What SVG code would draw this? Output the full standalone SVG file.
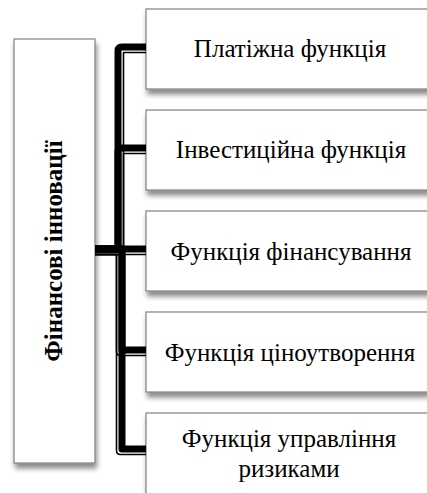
<svg xmlns="http://www.w3.org/2000/svg" width="427" height="493" viewBox="0 0 427 493">
<defs>
<filter id="sh" x="-20%" y="-20%" width="140%" height="140%">
<feDropShadow dx="1.5" dy="5" stdDeviation="2.8" flood-color="#000" flood-opacity="0.45"/>
</filter>
<style>
.box{fill:#fff;stroke:#808080;stroke-width:1.2;filter:url(#sh)}
.t{font-size:25px;fill:#000;text-anchor:middle}
.tb{font-size:25px;font-weight:bold;fill:#000;text-anchor:middle}
.thick{fill:none;stroke:#000;stroke-width:7;stroke-linejoin:round}
.thin{fill:none;stroke:#000;stroke-width:1.6;stroke-linejoin:round}
</style>
</defs>
<rect width="427" height="493" fill="#fff"/>
<g font-family="'Liberation Serif', 'Times New Roman', Tinos, 'Noto Serif', 'DejaVu Serif', FreeSerif, serif">
<g id="root">
<rect class="box" x="14" y="39" width="81" height="424"/>
<text class="tb" transform="translate(62,251) rotate(-90)">Фінансові інновації</text>
</g>
<g id="n1">
<rect class="box" x="146" y="9" width="290" height="80"/>
<text class="t" x="290" y="57">Платіжна функція</text>
</g>
<g id="n2">
<rect class="box" x="146" y="110" width="290" height="80"/>
<text class="t" x="291" y="158">Інвестиційна функція</text>
</g>
<g id="n3">
<rect class="box" x="146" y="211" width="290" height="80"/>
<text class="t" x="291" y="260">Функція фінансування</text>
</g>
<g id="n4">
<rect class="box" x="146" y="312" width="290" height="80"/>
<text class="t" x="290" y="361">Функція ціноутворення</text>
</g>
<g id="n5">
<rect class="box" x="146" y="413" width="290" height="95"/>
<text class="t" x="289" y="447">Функція управління</text>
<text class="t" x="289" y="477">ризиками</text>
</g>
</g>
<g id="connectors">
<path class="thick" d="M95 249 H118 V51 Q118 47 122 47 H146"/>
<path class="thin" d="M95 254.5 H123.5 V52.5 H146"/>
<path class="thick" d="M95 249 H118 V152 Q118 148 122 148 H146"/>
<path class="thin" d="M95 254.5 H123.5 V153.5 H146"/>
<path class="thick" d="M95 249 H146"/>
<path class="thin" d="M95 254.5 H146"/>
<path class="thick" d="M95 249 H122 V350 H146"/>
<path class="thin" d="M95 254.5 H116.5 V351.5 Q116.5 355.5 120.5 355.5 H146"/>
<path class="thick" d="M95 249 H122 V449 H146"/>
<path class="thin" d="M95 254.5 H116.5 V450.5 Q116.5 454.5 120.5 454.5 H146"/>
</g>
</svg>
